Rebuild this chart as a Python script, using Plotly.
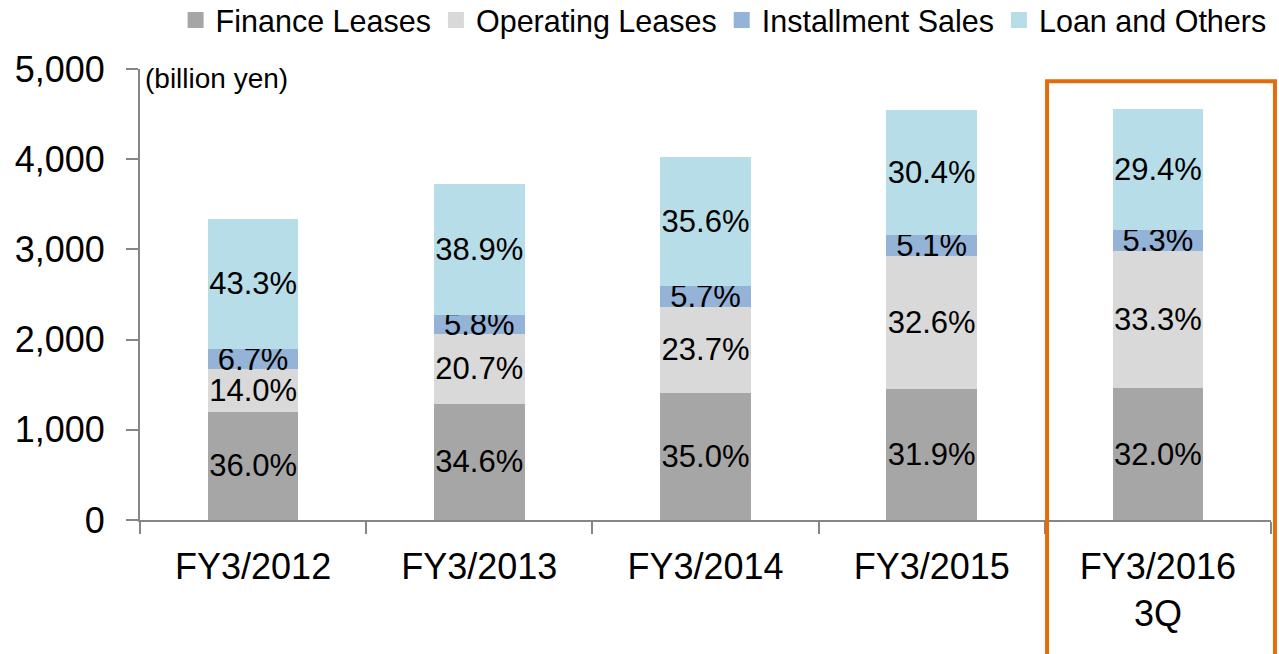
import plotly.graph_objects as go

# Operating assets by type (billion yen)
CATEGORIES = ["FY3/2012", "FY3/2013", "FY3/2014", "FY3/2015", "FY3/2016<br>3Q"]

FINANCE_LEASES = [1202, 1289, 1409, 1448, 1459]
OPERATING_LEASES = [468, 771, 954, 1483, 1518]
INSTALLMENT_SALES = [224, 216, 229, 232, 242]
LOAN_AND_OTHERS = [1446, 1449, 1433, 1382, 1341]

FINANCE_PCT = ["36.0%", "34.6%", "35.0%", "31.9%", "32.0%"]
OPERATING_PCT = ["14.0%", "20.7%", "23.7%", "32.6%", "33.3%"]
INSTALLMENT_PCT = ["6.7%", "5.8%", "5.7%", "5.1%", "5.3%"]
LOAN_PCT = ["43.3%", "38.9%", "35.6%", "30.4%", "29.4%"]

FONT = "Liberation Sans, Arial, sans-serif"
AXIS_GREY = "#868686"

SERIES = [
    ("Finance Leases", FINANCE_LEASES, FINANCE_PCT, "#a6a6a6"),
    ("Operating Leases", OPERATING_LEASES, OPERATING_PCT, "#d9d9d9"),
    ("Installment Sales", INSTALLMENT_SALES, INSTALLMENT_PCT, "#95b3d7"),
    ("Loan and Others", LOAN_AND_OTHERS, LOAN_PCT, "#b7dee8"),
]

fig = go.Figure()

for name, values, labels, color in SERIES:
    fig.add_trace(go.Bar(
        x=CATEGORIES,
        y=values,
        name=name,
        text=labels,
        textposition="inside",
        insidetextanchor="middle",
        constraintext="none",
        textangle=0,
        textfont=dict(family=FONT, size=31, color="black"),
        marker=dict(color=color, line=dict(width=0)),
        width=0.4,
        showlegend=False,
        hoverinfo="skip",
    ))
    # legend-only entry so the swatch can be bigger than plotly's bar symbol
    fig.add_trace(go.Scatter(
        x=[None], y=[None],
        mode="markers",
        name=name,
        marker=dict(symbol="square", size=18, color=color),
    ))

fig.update_layout(
    width=1279,
    height=654,
    barmode="stack",
    bargap=0.6,
    paper_bgcolor="white",
    plot_bgcolor="white",
    font=dict(family=FONT, color="black"),
    # keep the plot area fixed; the legend sits in the top margin
    margin=dict(l=140, r=8, t=69, b=134, autoexpand=False),
    legend=dict(
        orientation="h",
        traceorder="normal",
        x=0.516, xanchor="center",
        y=1.167, yanchor="top",
        font=dict(size=30.5),
        itemwidth=30,
        tracegroupgap=0,
        bgcolor="rgba(0,0,0,0)",
    ),
    annotations=[dict(
        text="(billion yen)",
        x=0.003, xref="paper", xanchor="left",
        y=0.98, yref="paper", yanchor="middle",
        showarrow=False,
        font=dict(size=28),
    )],
    shapes=[dict(
        type="rect",
        xref="paper", yref="paper",
        x0=0.802, x1=1.0035,
        y0=-0.35, y1=0.973,
        line=dict(color="#e46c0a", width=4),
        fillcolor="rgba(0,0,0,0)",
        layer="above",
    )],
)

fig.update_yaxes(
    range=[0, 5000],
    dtick=1000,
    tickformat=",",
    showgrid=False,
    zeroline=False,
    showline=True,
    linecolor=AXIS_GREY,
    linewidth=2,
    ticks="outside",
    ticklen=12,
    tickwidth=2,
    tickcolor=AXIS_GREY,
    ticklabelstandoff=14,
    tickfont=dict(size=36),
)

fig.update_xaxes(
    range=[-0.5, 4.5],
    showgrid=False,
    showline=True,
    linecolor=AXIS_GREY,
    linewidth=2,
    ticks="outside",
    tickson="boundaries",
    ticklen=12,
    tickwidth=2,
    tickcolor=AXIS_GREY,
    ticklabelstandoff=14,
    tickfont=dict(size=36),
)

fig.write_html(
    "out.html",
    config={"displayModeBar": False},
    post_script="document.body.style.margin='0';",
)
